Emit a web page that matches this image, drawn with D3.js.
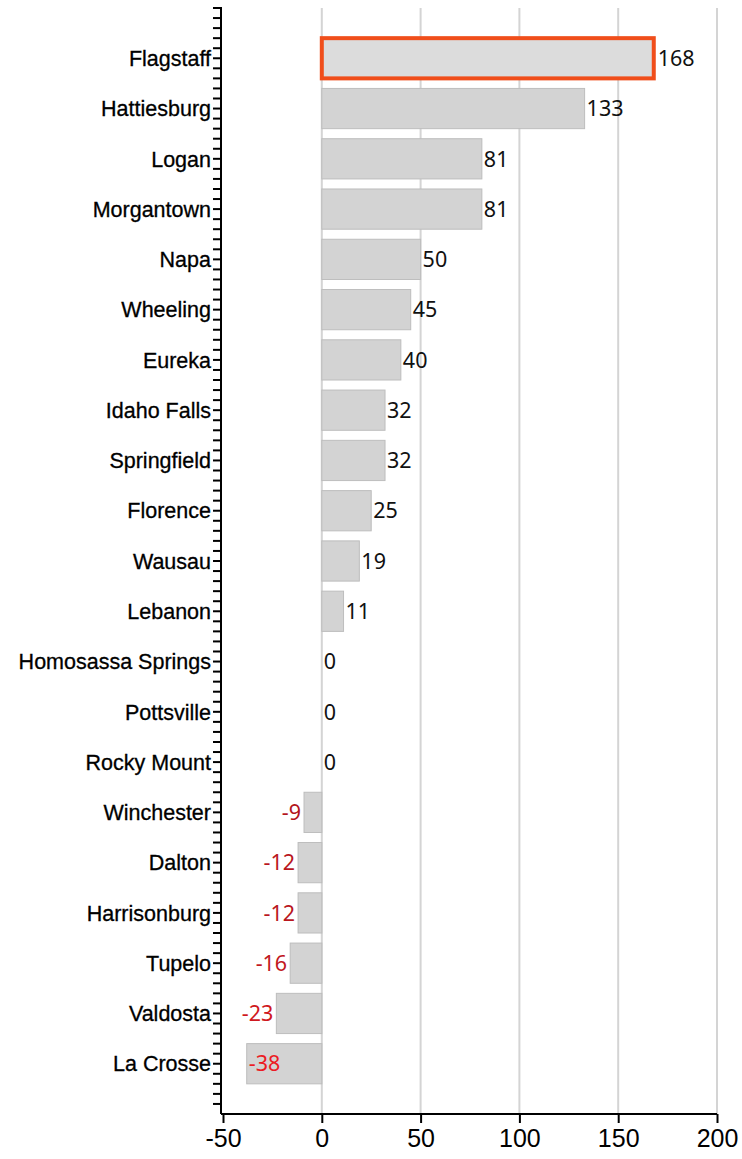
<!DOCTYPE html>
<html>
<head>
<meta charset="utf-8">
<script src="https://cdn.jsdelivr.net/npm/d3@7"></script>
<style>
  body { margin: 0; background: #fff; }
  svg { display: block; }
</style>
</head>
<body>
<div id="chart"></div>
<script>
// data
const cities = ["Flagstaff", "Hattiesburg", "Logan", "Morgantown", "Napa", "Wheeling",
  "Eureka", "Idaho Falls", "Springfield", "Florence", "Wausau", "Lebanon",
  "Homosassa Springs", "Pottsville", "Rocky Mount", "Winchester", "Dalton",
  "Harrisonburg", "Tupelo", "Valdosta", "La Crosse"];
const values = [168, 133, 81, 81, 50, 45, 40, 32, 32, 25, 19, 11, 0, 0, 0, -9, -12, -12, -16, -23, -38];
const highlight = "Flagstaff";
const xTicks = [-50, 0, 50, 100, 150, 200];

const width = 742, height = 1159;
const plotTop = 8, plotBottom = 1114, plotLeft = 221, plotRight = 717;

const rows = cities.map((c, i) => ({ city: c, value: values[i] }));

const svg = d3.select("#chart").append("svg")
  .attr("width", width)
  .attr("height", height);

const x = d3.scaleLinear().domain([-50, 200]).range([plotLeft + 2, plotRight]);
const y = d3.scaleBand().domain(cities).range([plotTop, plotBottom])
  .paddingInner(0.2).paddingOuter(0.6);

const negColor = d3.scaleLinear().domain([-9, -38]).range(["#b3151c", "#ec1c24"]);

// vertical grid
svg.append("g")
  .selectAll("line")
  .data(xTicks.filter(d => d > -50))
  .join("line")
  .attr("x1", d => x(d)).attr("x2", d => x(d))
  .attr("y1", plotTop).attr("y2", plotBottom)
  .attr("stroke", "#d4d4d4")
  .attr("stroke-width", 2);

// bars
svg.append("g")
  .selectAll("rect")
  .data(rows)
  .join("rect")
  .attr("x", d => x(Math.min(0, d.value)))
  .attr("y", d => y(d.city))
  .attr("width", d => Math.abs(x(d.value) - x(0)))
  .attr("height", y.bandwidth())
  .attr("fill", d => d.city === highlight ? "#dcdcdc" : "#d3d3d3")
  .attr("stroke", d => d.city === highlight ? "#f04e1b" : "#bdbdbd")
  .attr("stroke-width", d => d.city === highlight ? 4 : 1);

// value labels
const labels = svg.append("g")
  .selectAll("text")
  .data(rows)
  .join("text")
  .attr("y", d => y(d.city) + y.bandwidth() / 2)
  .attr("dy", "0.36em")
  .attr("font-family", "'Noto Sans', sans-serif")
  .attr("font-size", 21.5)
  .attr("fill", d => d.value < 0 ? negColor(d.value) : "#111")
  .text(d => d.value);

labels.each(function (d) {
  const t = d3.select(this);
  const w = this.getComputedTextLength();
  if (d.value >= 0) {
    const pad = d.city === highlight ? 4 : 2;
    t.attr("x", x(d.value) + pad).attr("text-anchor", "start");
  } else if (x(d.value) - 4 - w < plotLeft + 4) {
    // no room left of the bar, put it inside
    t.attr("x", x(d.value) + 2).attr("text-anchor", "start");
  } else {
    t.attr("x", x(d.value) - 3).attr("text-anchor", "end");
  }
});

// y axis with minor ticks
const step = y.step();
const firstCenter = y(cities[0]) + y.bandwidth() / 2;
const minor = d3.range(-5, cities.length * 5)
  .map(i => firstCenter + i * step / 5)
  .filter(v => v >= plotTop - 0.5 && v <= plotBottom + 0.5);

const yAxis = svg.append("g");
yAxis.selectAll("line.tick")
  .data(minor)
  .join("line")
  .attr("class", "tick")
  .attr("x1", plotLeft - 8).attr("x2", plotLeft)
  .attr("y1", d => d).attr("y2", d => d)
  .attr("stroke", "#000")
  .attr("stroke-width", 2);
yAxis.append("line")
  .attr("x1", plotLeft).attr("x2", plotLeft)
  .attr("y1", plotTop - 1).attr("y2", plotBottom)
  .attr("stroke", "#000")
  .attr("stroke-width", 2);
yAxis.selectAll("text")
  .data(cities)
  .join("text")
  .attr("x", plotLeft - 10)
  .attr("y", d => y(d) + y.bandwidth() / 2)
  .attr("dy", "0.36em")
  .attr("text-anchor", "end")
  .attr("font-family", "'Liberation Sans', Arial, sans-serif")
  .attr("font-size", 21.5)
  .attr("stroke", "#000")
  .attr("stroke-width", 0.3)
  .attr("fill", "#000")
  .text(d => d);

// x axis
const xAxis = svg.append("g")
  .attr("transform", `translate(0,${plotBottom})`)
  .call(d3.axisBottom(x).tickValues(xTicks).tickSize(9).tickPadding(6).tickFormat(d => String(d)));
xAxis.select(".domain").attr("stroke-width", 2).attr("d", `M${plotLeft},0H${plotRight}`);
xAxis.selectAll(".tick line").attr("stroke-width", 2);
xAxis.selectAll(".tick text")
  .attr("font-family", "'Liberation Sans', Arial, sans-serif")
  .attr("font-size", 25)
  .attr("fill", "#000");
</script>
</body>
</html>
